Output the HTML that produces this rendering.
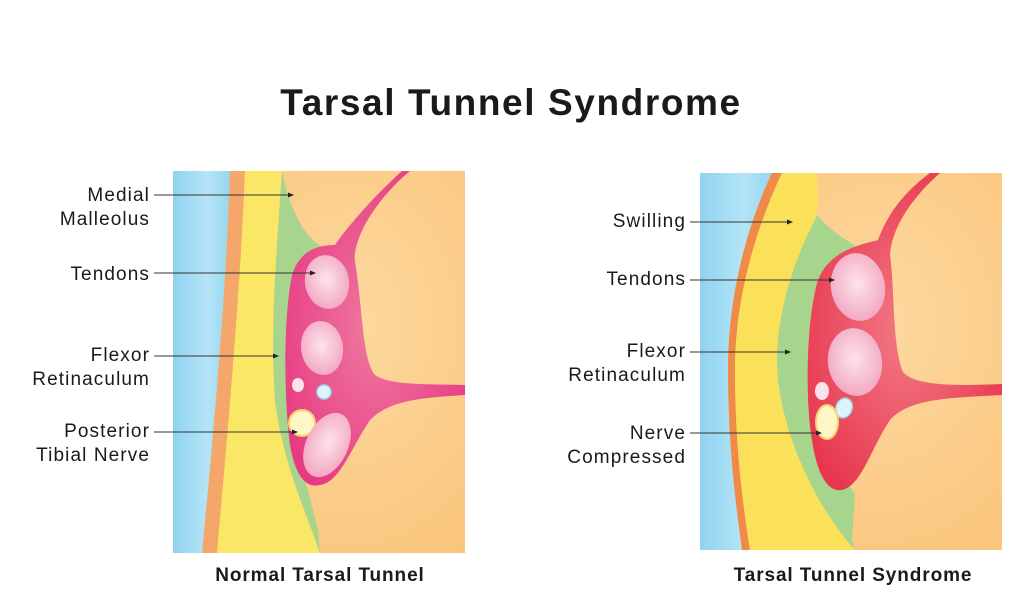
<!DOCTYPE html>
<html><head><meta charset="utf-8"><style>
body{margin:0;background:#fff;}
svg{display:block}
text{font-family:"Liberation Sans",sans-serif;fill:#1a1a1a}
</style></head><body>
<svg width="1024" height="614" viewBox="0 0 1024 614" xmlns="http://www.w3.org/2000/svg">
<defs>
<linearGradient id="bl" x1="0" x2="1"><stop offset="0" stop-color="#8fd3ef"/><stop offset="0.6" stop-color="#b5e4f7"/><stop offset="1" stop-color="#96d6f0"/></linearGradient>
<radialGradient id="pk" cx="0.5" cy="0.5" r="0.6"><stop offset="0" stop-color="#f07aa0"/><stop offset="1" stop-color="#e63a82"/></radialGradient>
<radialGradient id="rd" cx="0.5" cy="0.5" r="0.6"><stop offset="0" stop-color="#f27a86"/><stop offset="1" stop-color="#e8364d"/></radialGradient>
<radialGradient id="tn" cx="0.5" cy="0.45" r="0.6"><stop offset="0" stop-color="#fde4ea"/><stop offset="1" stop-color="#f2a3c0"/></radialGradient>
<radialGradient id="pc" cx="0.6" cy="0.4" r="0.7"><stop offset="0" stop-color="#fdd9a0"/><stop offset="1" stop-color="#fbc57c"/></radialGradient>
<marker id="ar" markerWidth="6" markerHeight="6" refX="5" refY="3" orient="auto"><path d="M0,0.5 L6,3 L0,5.5z" fill="#222"/></marker>
</defs>

<text x="511" y="115" text-anchor="middle" font-size="37" font-weight="bold" letter-spacing="1.6" fill="#000">Tarsal Tunnel Syndrome</text>

<!-- LEFT PANEL -->
<rect x="173" y="171" width="292" height="382" fill="url(#pc)"/>
<path d="M173,171 L230,171 C226,300 212,450 202,553 L173,553z" fill="url(#bl)"/>
<path d="M230,171 L245,171 C240,300 226,450 217,553 L202,553 C212,450 226,300 230,171z" fill="#f5a66a"/>
<path d="M245,171 L282,171 C276,260 270,330 275,400 C282,460 305,510 320,553 L217,553 C226,450 240,300 245,171z" fill="#fbe766"/>
<path d="M282,171 C290,210 305,240 325,248 L300,300 L290,420 L318,530 L320,553 C305,510 282,460 275,400 C270,330 276,260 282,171z" fill="#a8d58e"/>
<path d="M410,171 L402,171 C370,200 345,230 335,245 C318,245 300,250 292,275 C283,320 284,400 290,445 C296,480 308,488 320,485 C340,482 350,450 370,420 C390,400 420,398 465,395 L465,385 C420,384 390,385 375,375 C362,360 362,300 355,262 C352,240 375,200 410,171z" fill="url(#pk)"/>
<ellipse cx="327" cy="282" rx="22" ry="27" fill="url(#tn)" transform="rotate(-10 327 282)"/>
<ellipse cx="322" cy="348" rx="21" ry="27" fill="url(#tn)" transform="rotate(-8 322 348)"/>
<ellipse cx="298" cy="385" rx="6" ry="7" fill="#fbe3ea"/>
<circle cx="324" cy="392" r="7" fill="#dff3fb" stroke="#9fd6ee" stroke-width="1.5"/>
<ellipse cx="302" cy="423" rx="13" ry="13" fill="#fff6c8" stroke="#f6d46a" stroke-width="2"/>
<ellipse cx="327" cy="445" rx="21" ry="34" fill="url(#tn)" transform="rotate(25 327 445)"/>

<g font-size="19" text-anchor="end" letter-spacing="1.1">
<text x="150" y="201">Medial</text><text x="150" y="225">Malleolus</text>
<text x="150" y="280">Tendons</text>
<text x="150" y="361">Flexor</text><text x="150" y="385">Retinaculum</text>
<text x="150" y="437">Posterior</text><text x="150" y="461">Tibial Nerve</text>
<text x="686" y="227">Swilling</text>
<text x="686" y="285">Tendons</text>
<text x="686" y="357">Flexor</text><text x="686" y="381">Retinaculum</text>
<text x="686" y="439">Nerve</text><text x="686" y="463">Compressed</text>
</g>
<g stroke="#333" stroke-width="1" marker-end="url(#ar)">
<line x1="154" y1="195" x2="293" y2="195"/>
<line x1="154" y1="273" x2="315" y2="273"/>
<line x1="154" y1="356" x2="278" y2="356"/>
<line x1="154" y1="432" x2="297" y2="432"/>
</g>

<text x="320" y="581" text-anchor="middle" font-size="19" font-weight="bold" letter-spacing="0.9" fill="#000">Normal Tarsal Tunnel</text>

<!-- RIGHT PANEL -->
<rect x="700" y="173" width="302" height="377" fill="url(#pc)"/>
<path d="M700,173 L772,173 C745,230 728,300 728,370 C728,440 735,500 742,550 L700,550z" fill="url(#bl)"/>
<path d="M772,173 L782,173 C755,230 735,300 735,370 C735,440 742,500 750,550 L742,550 C735,500 728,440 728,370 C728,300 745,230 772,173z" fill="#f08a48"/>
<path d="M782,173 L817,173 C818,200 820,215 810,230 C790,270 777,320 777,360 C777,420 810,500 855,550 L750,550 C742,500 735,440 735,370 C735,300 755,230 782,173z" fill="#fbe15a"/>
<path d="M817,215 C830,230 845,240 855,245 L820,320 L812,420 L855,495 L852,540 L855,550 C810,500 777,420 777,360 C777,320 790,270 810,230z" fill="#a8d58e"/>
<path d="M940,173 L930,173 C900,195 885,220 878,240 C860,245 830,250 818,280 C806,320 805,400 812,440 C818,480 830,492 842,490 C862,485 870,450 890,420 C910,398 950,398 1002,395 L1002,384 C955,386 915,386 903,372 C892,345 895,290 890,255 C892,225 915,195 940,173z" fill="url(#rd)"/>
<ellipse cx="858" cy="287" rx="27" ry="34" fill="url(#tn)" transform="rotate(-10 858 287)"/>
<ellipse cx="855" cy="362" rx="27" ry="34" fill="url(#tn)" transform="rotate(-8 855 362)"/>
<ellipse cx="822" cy="391" rx="7" ry="9" fill="#fbe3ea"/>
<ellipse cx="844" cy="408" rx="8" ry="10" fill="#dff3fb" stroke="#9fd6ee" stroke-width="1.5" transform="rotate(20 844 408)"/>
<ellipse cx="827" cy="422" rx="11" ry="17" fill="#fff6c8" stroke="#f6d46a" stroke-width="2"/>
<g stroke="#333" stroke-width="1" marker-end="url(#ar)">
<line x1="690" y1="222" x2="792" y2="222"/>
<line x1="690" y1="280" x2="834" y2="280"/>
<line x1="690" y1="352" x2="790" y2="352"/>
<line x1="690" y1="433" x2="821" y2="433"/>
</g>

<text x="853" y="581" text-anchor="middle" font-size="19" font-weight="bold" letter-spacing="0.9" fill="#000">Tarsal Tunnel Syndrome</text>
</svg>
</body></html>
